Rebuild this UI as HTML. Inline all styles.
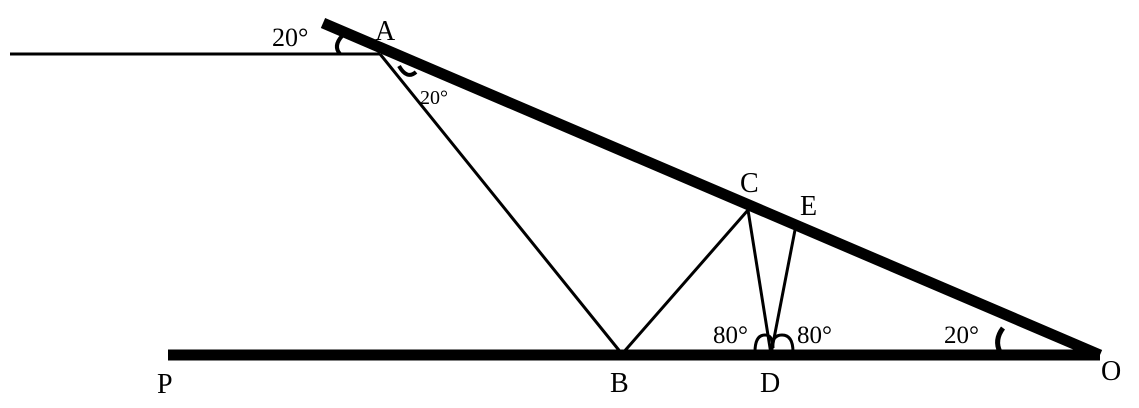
<!DOCTYPE html>
<html><head><style>body{margin:0;background:#fff}svg{display:block}text{font-family:"Liberation Serif",serif;fill:#000}</style></head>
<body>
<svg width="1139" height="408" viewBox="0 0 1139 408">
<line x1="10" y1="54" x2="380" y2="54" stroke="#000" stroke-width="3"/>
<line x1="168" y1="355" x2="1100" y2="355" stroke="#000" stroke-width="11"/>
<line x1="323" y1="23" x2="1100" y2="355" stroke="#000" stroke-width="11"/>
<polyline points="380,54 622,354 748,210 771,354 795,230" fill="none" stroke="#000" stroke-width="3"/>
<path d="M342,36 Q333,46 340,54" fill="none" stroke="#000" stroke-width="4"/>
<path d="M399,66 Q407,80 416,72" fill="none" stroke="#000" stroke-width="4"/>
<path d="M1003,328 Q994,340 1000,352" fill="none" stroke="#000" stroke-width="5"/>
<path d="M755,352 Q755,335 765,335 Q773,335 773,348" fill="none" stroke="#000" stroke-width="3"/>
<path d="M772,348 Q772,335 782,335 Q793,335 793,352" fill="none" stroke="#000" stroke-width="3"/>
<text x="272" y="46" font-size="26">20°</text>
<text x="375" y="40" font-size="28">A</text>
<text x="420" y="104" font-size="20">20°</text>
<text x="740" y="192" font-size="28">C</text>
<text x="800" y="215" font-size="28">E</text>
<text x="713" y="343" font-size="25">80°</text>
<text x="797" y="343" font-size="25">80°</text>
<text x="944" y="343" font-size="25">20°</text>
<text x="157" y="393" font-size="28">P</text>
<text x="610" y="392" font-size="28">B</text>
<text x="760" y="392" font-size="28">D</text>
<text x="1101" y="380" font-size="28">O</text>
</svg>
</body></html>
